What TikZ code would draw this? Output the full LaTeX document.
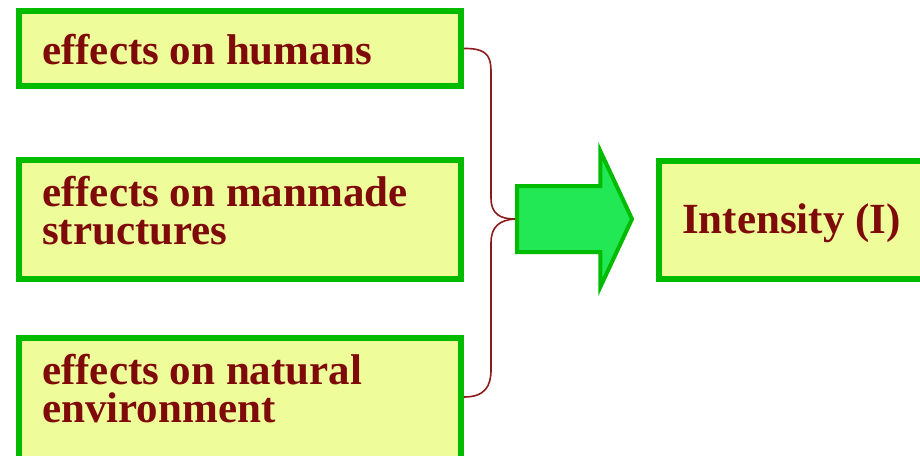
\documentclass[tikz,border=0pt]{standalone}
\usepackage{fontspec}
\setmainfont{Liberation Serif}
\usetikzlibrary{shapes.arrows,calc}
\definecolor{boxfill}{HTML}{EEFC99}
\definecolor{boxline}{HTML}{00BB00}
\definecolor{txtcol}{HTML}{7F0A0A}
\definecolor{arrfill}{HTML}{22E855}
\definecolor{bracecol}{HTML}{8B1C1C}
\begin{document}
\begin{tikzpicture}[x=1pt,y=1pt,
  box/.style={draw=boxline, fill=boxfill, line width=6pt, rectangle, inner sep=0pt},
  lbl/.style={anchor=north west, inner sep=0pt, text=txtcol,
    font=\fontsize{43}{38}\selectfont\bfseries, align=left},
  bigarrow/.style={shape=single arrow, draw=boxline, fill=arrfill, line width=4pt,
    inner sep=31pt, minimum height=115pt, single arrow head extend=35pt,
    single arrow tip angle=130},
  bracestyle/.style={draw=bracecol, line width=1.6pt}]
\useasboundingbox (0,0) rectangle (920,-455);
% boxes (path centre lines)
\node[box, minimum width=442pt, minimum height=75pt] (b1) at (240,-48.5) {};
\node[box, minimum width=442pt, minimum height=119pt] (b2) at (240,-219.5) {};
\node[box, minimum width=442pt, minimum height=132pt] (b3) at (240,-404) {};
\node[box, minimum width=276pt, minimum height=118pt] (bi) at (797,-220) {};
% labels
\node[lbl] (t1) at (42,-34) {effects on humans};
\node[lbl] (t2) at (42,-176) {effects on manmade\\structures};
\node[lbl] (t3) at (42,-354) {effects on natural\\environment};
\node[lbl] (ti) at (682,-203) {Intensity (I)};
% arrow
\node[bigarrow, anchor=west] (arw) at (515,-219) {};
% brace
\coordinate (c1) at (b1.east);
\coordinate (c3) at (464,-397);
\draw[bracestyle] (c1) .. controls (491,-48) and (491,-60) .. (491,-75)
  -- (491,-198) .. controls (491,-214) and (500,-219) .. (arw.west);
\draw[bracestyle] (arw.west) .. controls (500,-220) and (491,-226) .. (491,-243)
  -- (491,-370) .. controls (491,-386) and (485,-397) .. (c3);
\end{tikzpicture}
\end{document}
